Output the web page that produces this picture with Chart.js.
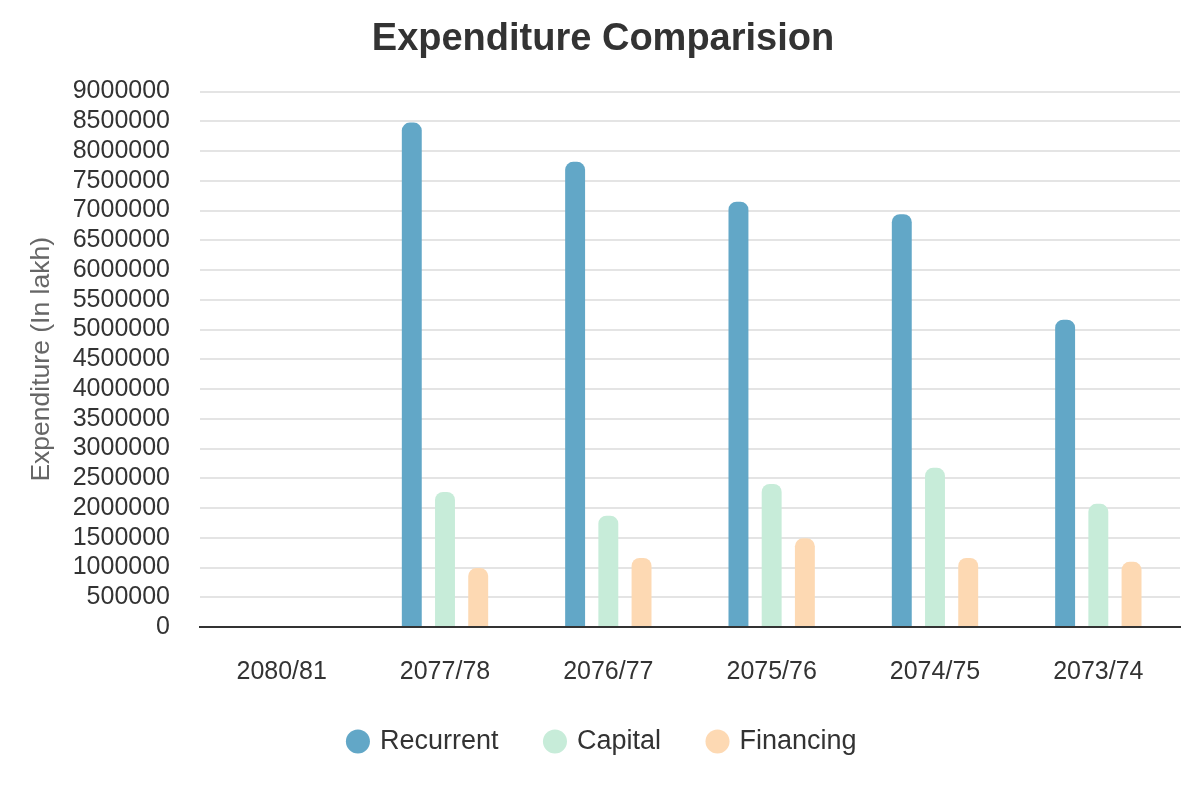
<!DOCTYPE html>
<html>
<head>
<meta charset="utf-8">
<script src="https://cdn.jsdelivr.net/npm/chart.js@4"></script>
<style>
  html, body { margin: 0; padding: 0; background: #ffffff; }
  #wrap { width: 1200px; height: 800px; position: relative; }
</style>
</head>
<body>
<div id="wrap"><canvas id="expChart"></canvas></div>
<script>
const years = ['2080/81', '2077/78', '2076/77', '2075/76', '2074/75', '2073/74'];
const recurrent = [0, 8480000, 7820000, 7150000, 6940000, 5165000];
const capital = [0, 2270000, 1870000, 2405000, 2675000, 2070000];
const financing = [0, 990000, 1160000, 1490000, 1160000, 1095000];

Chart.defaults.font.family = "'Liberation Sans', Arial, sans-serif";
Chart.defaults.color = '#333333';

const ctx = document.getElementById('expChart').getContext('2d');

function barSet(label, data, color) {
    return {
        label: label,
        data: data,
        backgroundColor: color,
        borderColor: color,
        borderWidth: 0,
        borderRadius: 8,
        borderSkipped: 'bottom',
        barPercentage: 0.6,
        categoryPercentage: 0.61
    };
}

new Chart(ctx, {
    type: 'bar',
    data: {
        labels: years,
        datasets: [
            barSet('Recurrent', recurrent, '#62a7c7'),
            barSet('Capital', capital, '#c7ecd9'),
            barSet('Financing', financing, '#fdd9b3')
        ]
    },
    options: {
        responsive: true,
        maintainAspectRatio: false,
        animation: false,
        layout: { padding: { left: 26, right: 20, top: 0, bottom: 35 } },
        plugins: {
            title: {
                display: true,
                text: 'Expenditure Comparision',
                color: '#333333',
                font: { size: 38, weight: 'bold' },
                padding: { top: 17, bottom: 29 }
            },
            legend: {
                position: 'bottom',
                labels: {
                    usePointStyle: true,
                    pointStyle: 'circle',
                    boxWidth: 17,
                    boxHeight: 17,
                    padding: 48,
                    color: '#333333',
                    font: { size: 27 }
                }
            },
            tooltip: { enabled: false }
        },
        scales: {
            x: {
                grid: { display: false, drawTicks: false },
                border: { display: true, color: '#333333', width: 2 },
                ticks: { padding: 30, font: { size: 25 }, color: '#333333' },
                afterFit: (scale) => { scale.height = 53; }
            },
            y: {
                min: 0,
                max: 9000000,
                grid: { color: '#e4e4e4', lineWidth: 2, drawTicks: false },
                border: { display: false },
                ticks: {
                    stepSize: 500000,
                    autoSkip: false,
                    padding: 30,
                    font: { size: 25 },
                    color: '#333333',
                    callback: v => String(v)
                },
                title: {
                    display: true,
                    text: 'Expenditure (In lakh)',
                    color: '#666666',
                    font: { size: 26.5 },
                    padding: { top: 0, bottom: 0 }
                },
                afterFit: (scale) => { scale.width = 174; }
            }
        }
    }
});
</script>
</body>
</html>
